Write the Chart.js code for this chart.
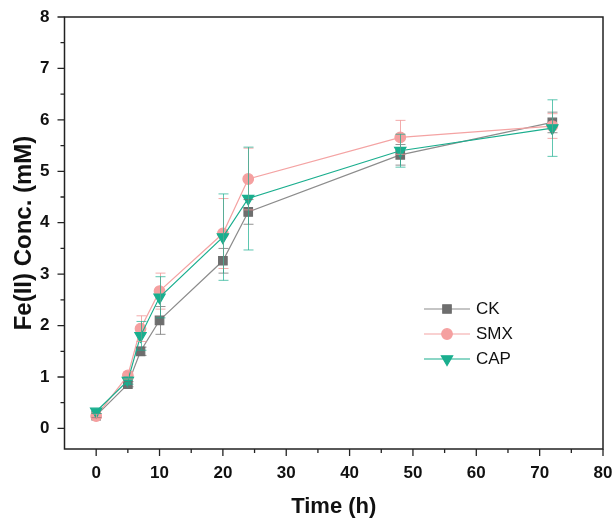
<!DOCTYPE html>
<html>
<head>
<meta charset="utf-8">
<script src="https://cdn.jsdelivr.net/npm/chart.js@4/dist/chart.umd.min.js"></script>
<style>
  html, body { margin: 0; padding: 0; background: #fff; }
  #wrap { width: 614px; height: 524px; }
</style>
</head>
<body>
<div id="wrap"><canvas id="chart" width="614" height="524"></canvas></div>
<script>
// sampling times (h)
const times = [0, 5, 7, 10, 20, 24, 48, 72];

// Fe(II) concentration (mM)
const ckValues  = [0.25, 0.86, 1.50, 2.10, 3.26, 4.21, 5.32, 5.95];
const smxValues = [0.24, 1.03, 1.94, 2.67, 3.79, 4.85, 5.66, 5.88];
const capValues = [0.33, 0.93, 1.80, 2.55, 3.72, 4.47, 5.40, 5.84];

// error bar half-widths
const ckErrors  = [0.04, 0.05, 0.08, 0.27, 0.24, 0.24, 0.20, 0.20];
const smxErrors = [0.04, 0.07, 0.25, 0.35, 0.68, 0.60, 0.33, 0.24];
const capErrors = [0.04, 0.07, 0.28, 0.40, 0.84, 1.00, 0.32, 0.55];

const seriesNames = ['CK', 'SMX', 'CAP'];

const xTicks = [0, 10, 20, 30, 40, 50, 60, 70, 80];
const yTicks = [0, 1, 2, 3, 4, 5, 6, 7, 8];

const FONT = "'Liberation Sans', Arial, sans-serif";

function points(values) {
    return times.map((t, i) => ({ x: t, y: values[i] }));
}

// error bars drawn through the chart's own scales
const errorBarPlugin = {
    id: 'errorBars',
    afterDatasetsDraw(chart) {
        const ctx = chart.ctx;
        const xs = chart.scales.x;
        const ys = chart.scales.y;
        ctx.save();
        chart.data.datasets.forEach(ds => {
            ctx.strokeStyle = ds.errorColor;
            ctx.lineWidth = 1;
            ds.data.forEach((p, i) => {
                const e = ds.errors[i];
                const px = Math.round(xs.getPixelForValue(p.x)) + 0.5;
                const top = ys.getPixelForValue(p.y + e);
                const bot = ys.getPixelForValue(p.y - e);
                ctx.beginPath();
                ctx.moveTo(px, top);
                ctx.lineTo(px, bot);
                ctx.moveTo(px - 5, top);
                ctx.lineTo(px + 5, top);
                ctx.moveTo(px - 5, bot);
                ctx.lineTo(px + 5, bot);
                ctx.stroke();
            });
        });
        ctx.restore();
    }
};

// frame, major/minor ticks and the line+marker legend
const framePlugin = {
    id: 'frame',
    afterDraw(chart) {
        const ctx = chart.ctx;
        const a = chart.chartArea;
        const xs = chart.scales.x;
        const ys = chart.scales.y;
        ctx.save();
        ctx.strokeStyle = '#222';
        ctx.lineWidth = 1.5;
        ctx.strokeRect(a.left, a.top, a.right - a.left, a.bottom - a.top);

        ctx.lineWidth = 1.3;
        ctx.beginPath();
        xTicks.forEach((v, i) => {
            const px = xs.getPixelForValue(v);
            ctx.moveTo(px, a.bottom);
            ctx.lineTo(px, a.bottom + 7);
            if (i < xTicks.length - 1) {
                const mx = xs.getPixelForValue((v + xTicks[i + 1]) / 2);
                ctx.moveTo(mx, a.bottom);
                ctx.lineTo(mx, a.bottom + 4);
            }
        });
        yTicks.forEach((v, i) => {
            const py = ys.getPixelForValue(v);
            ctx.moveTo(a.left, py);
            ctx.lineTo(a.left - 7, py);
            if (i < yTicks.length - 1) {
                const my = ys.getPixelForValue((v + yTicks[i + 1]) / 2);
                ctx.moveTo(a.left, my);
                ctx.lineTo(a.left - 4, my);
            }
        });
        ctx.stroke();

        // legend
        const lx = 424, ly = 309, gap = 25;
        chart.data.datasets.forEach((ds, i) => {
            const y = ly + i * gap;
            ctx.strokeStyle = ds.borderColor;
            ctx.lineWidth = 1.2;
            ctx.beginPath();
            ctx.moveTo(lx, y);
            ctx.lineTo(lx + 46, y);
            ctx.stroke();
            ctx.fillStyle = ds.pointBackgroundColor;
            ctx.strokeStyle = ds.pointBorderColor;
            Chart.helpers.drawPoint(ctx, {
                pointStyle: ds.pointStyle,
                radius: ds.pointRadius,
                rotation: ds.pointRotation || 0,
                borderWidth: 1
            }, lx + 23, y);
            ctx.fillStyle = '#111';
            ctx.font = '17px ' + FONT;
            ctx.textAlign = 'left';
            ctx.textBaseline = 'middle';
            ctx.fillText(ds.label, lx + 52, y);
        });
        ctx.restore();
    }
};

new Chart(document.getElementById('chart'), {
    type: 'line',
    data: {
        datasets: [
            {
                label: seriesNames[0],
                data: points(ckValues),
                errors: ckErrors,
                errorColor: 'rgba(110,110,110,0.75)',
                borderColor: '#8c8c8c',
                borderWidth: 1.2,
                pointStyle: 'rect',
                pointRadius: 6,
                pointBackgroundColor: '#6e6e6e',
                pointBorderColor: '#6e6e6e',
                order: 2
            },
            {
                label: seriesNames[1],
                data: points(smxValues),
                errors: smxErrors,
                errorColor: 'rgba(240,150,150,0.8)',
                borderColor: '#f4a3a3',
                borderWidth: 1.2,
                pointStyle: 'circle',
                pointRadius: 5.3,
                pointBackgroundColor: '#f5a0a0',
                pointBorderColor: '#f5a0a0',
                order: 1
            },
            {
                label: seriesNames[2],
                data: points(capValues),
                errors: capErrors,
                errorColor: 'rgba(26,174,142,0.7)',
                borderColor: '#1aae8e',
                borderWidth: 1.2,
                pointStyle: 'triangle',
                pointRotation: 180,
                pointRadius: 6.5,
                pointBackgroundColor: '#1aae8e',
                pointBorderColor: '#1aae8e',
                order: 0
            }
        ]
    },
    options: {
        responsive: false,
        animation: false,
        devicePixelRatio: 1,
        layout: {
            padding: { left: 0, right: 11, top: 17, bottom: 0 }
        },
        plugins: {
            legend: { display: false },
            tooltip: { enabled: false }
        },
        scales: {
            x: {
                type: 'linear',
                min: -5,
                max: 80,
                afterBuildTicks: scale => { scale.ticks = xTicks.map(v => ({ value: v })); },
                afterFit: scale => {
                    scale.height = 75;
                    scale.paddingLeft = 0;
                    scale.paddingRight = 0;
                },
                grid: { display: false, drawTicks: false },
                border: { display: false },
                ticks: {
                    padding: 14,
                    color: '#111',
                    font: { family: FONT, size: 17, weight: 'bold' }
                },
                title: {
                    display: true,
                    text: 'Time (h)',
                    color: '#111',
                    padding: { top: 0, bottom: 4 },
                    font: { family: FONT, size: 22, weight: 'bold' }
                }
            },
            y: {
                type: 'linear',
                min: -0.4,
                max: 8,
                afterBuildTicks: scale => { scale.ticks = yTicks.map(v => ({ value: v })); },
                afterFit: scale => {
                    scale.width = 64.5;
                    scale.paddingTop = 0;
                    scale.paddingBottom = 0;
                },
                grid: { display: false, drawTicks: false },
                border: { display: false },
                ticks: {
                    padding: 15,
                    color: '#111',
                    font: { family: FONT, size: 17, weight: 'bold' }
                },
                title: {
                    display: true,
                    text: 'Fe(II) Conc. (mM)',
                    color: '#111',
                    padding: { top: 10, bottom: 0 },
                    font: { family: FONT, size: 24, weight: 'bold' }
                }
            }
        }
    },
    plugins: [errorBarPlugin, framePlugin]
});
</script>
</body>
</html>
